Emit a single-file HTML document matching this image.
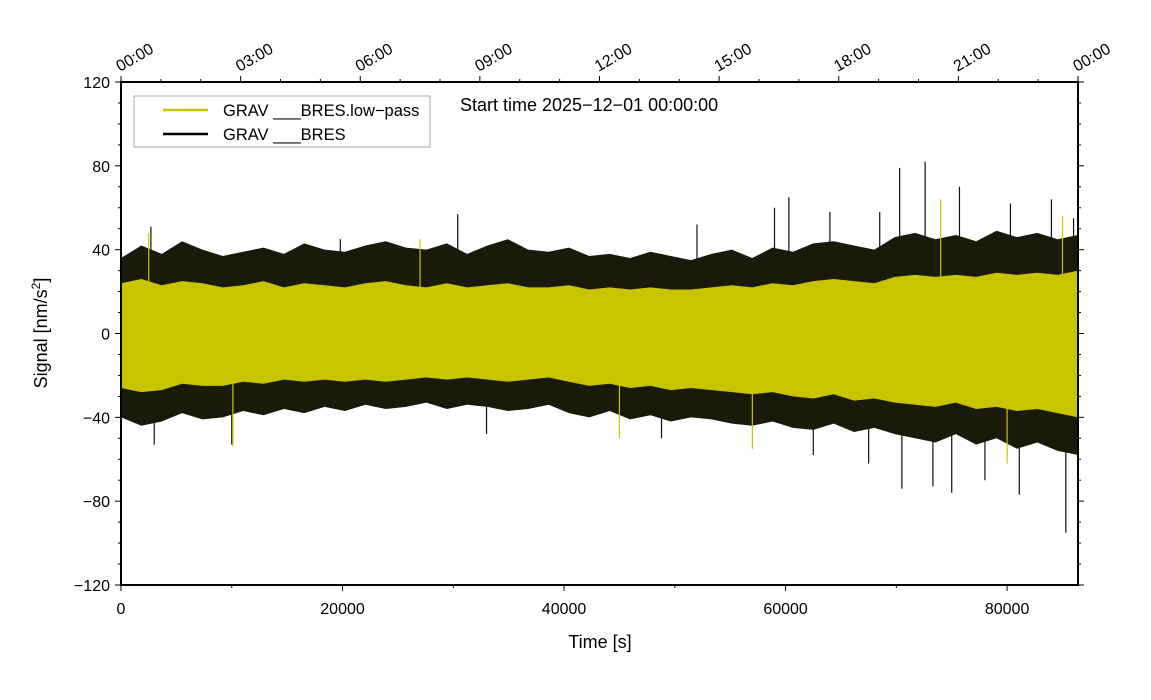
<!DOCTYPE html>
<html><head><meta charset="utf-8"><style>
body{margin:0;background:#fff;}
svg{display:block;font-family:"Liberation Sans",sans-serif;}
</style></head><body>
<svg id="chart" width="1151" height="700" viewBox="0 0 1151 700" xmlns="http://www.w3.org/2000/svg">
<rect width="1151" height="700" fill="#fff"/>
<g id="plot"></g>
<g id="axes"></g>
<g>
<rect x="134" y="96" width="296" height="51" fill="#fff" stroke="#aaa" stroke-width="1"/>
<line x1="163" y1="110" x2="208" y2="110" stroke="#c8c400" stroke-width="2.5"/>
<text x="223" y="116" font-size="16.5">GRAV ___BRES.low−pass</text>
<line x1="163" y1="134" x2="208" y2="134" stroke="#000" stroke-width="2.5"/>
<text x="223" y="140" font-size="16.5">GRAV ___BRES</text>
</g>
<text x="460" y="111" font-size="18">Start time 2025−12−01 00:00:00</text>
<text x="600" y="648" font-size="18" text-anchor="middle">Time [s]</text>
<text transform="translate(47,333) rotate(-90)" font-size="18" text-anchor="middle">Signal [nm/s<tspan font-size="12" dy="-7">2</tspan><tspan dy="7">]</tspan></text>
</svg>
<script>
const blackMax=[36,42,38,44,40,37,39,41,38,43,40,39,42,44,41,40,43,38,42,45,40,39,41,37,38,36,39,37,35,38,40,36,41,39,43,44,42,40,46,48,45,47,44,49,46,48,45,47];
const blackMin=[-40,-44,-42,-38,-41,-40,-37,-39,-36,-38,-35,-37,-34,-36,-35,-33,-36,-34,-35,-37,-36,-34,-38,-40,-37,-41,-39,-42,-40,-41,-43,-44,-42,-45,-46,-43,-47,-45,-48,-50,-52,-48,-53,-50,-55,-52,-56,-58];
const yelMax=[24,26,23,25,24,22,23,25,22,24,23,22,24,25,23,22,24,22,23,24,22,22,23,21,22,21,22,21,21,22,23,22,24,23,25,26,25,24,27,28,27,28,27,29,28,29,28,30];
const yelMin=[-26,-28,-27,-24,-25,-25,-23,-24,-22,-23,-22,-23,-22,-23,-22,-21,-22,-21,-22,-23,-22,-21,-23,-25,-24,-26,-25,-27,-26,-27,-28,-29,-28,-30,-31,-29,-32,-31,-33,-34,-35,-33,-36,-35,-37,-36,-38,-40];
const blackSpikeT=[2700,3000,10000,19800,30400,33000,48800,52000,59000,60300,62500,64000,67500,68500,70300,70500,72600,73300,75000,75700,78000,80300,81100,84000,85300,86000];
const blackSpikeV=[51,-53,-53,45,57,-48,-50,52,60,65,-58,58,-62,58,79,-74,82,-73,-76,70,-70,62,-77,64,-95,55];
const yelSpikeT=[2500,10100,27000,45000,57000,74000,80000,85000];
const yelSpikeV=[48,-54,45,-50,-55,64,-62,56];
const yTicks=[-120,-80,-40,0,40,80,120];
const xTicks=[0,20000,40000,60000,80000];
const hourLabels=["00:00","03:00","06:00","09:00","12:00","15:00","18:00","21:00","00:00"];

const L=121,R=1078,T=82,B=585,TMAX=86400;
const sx=t=>L+t/TMAX*(R-L);
const sy=v=>B-(v+120)/240*(B-T);
const NS="http://www.w3.org/2000/svg";
function mk(tag,attrs,parent){const e=document.createElementNS(NS,tag);for(const k in attrs)e.setAttribute(k,attrs[k]);parent.appendChild(e);return e;}
const plot=document.getElementById('plot'),axes=document.getElementById('axes');
const binW=TMAX/(blackMax.length-1);
function band(maxA,minA,color,name){
  let pts=[];
  maxA.forEach((v,i)=>pts.push(sx(i*binW)+','+sy(v)));
  for(let i=minA.length-1;i>=0;i--)pts.push(sx(i*binW)+','+sy(minA[i]));
  const p=mk('polygon',{points:pts.join(' '),fill:color},plot);
  
  
}
function spikes(ts,vs,color,name){
  ts.forEach((t,i)=>{const l=mk('line',{x1:sx(t),x2:sx(t),y1:sy(0),y2:sy(vs[i]),stroke:color,'stroke-width':1.2},plot);
  
  });
}
spikes(blackSpikeT,blackSpikeV,'#111','raw-spike');
band(blackMax,blackMin,'#1a1a0a','raw-signal-band');
band(yelMax,yelMin,'#c8c400','low-pass-signal-band');
spikes(yelSpikeT,yelSpikeV,'#c8c400','low-pass-spike');
const fr=mk('rect',{x:L,y:T,width:R-L,height:B-T,fill:'none',stroke:'#000','stroke-width':2},axes);


for(let v=-120;v<=120;v+=10){const maj=v%40===0;const len=maj?6:3;
  mk('line',{x1:L-len,x2:L,y1:sy(v),y2:sy(v),stroke:'#000','stroke-width':1},axes);
  mk('line',{x1:R,x2:R+len,y1:sy(v),y2:sy(v),stroke:'#000','stroke-width':1},axes);}
yTicks.forEach(v=>{const t=mk('text',{x:L-11,y:sy(v)+6,'font-size':16,'text-anchor':'end'},axes);t.textContent=(v<0?'−':'')+Math.abs(v);
  
  });
for(let t=0;t<=TMAX;t+=10000){const maj=t%20000===0;mk('line',{x1:sx(t),x2:sx(t),y1:B,y2:B+(maj?6:3),stroke:'#000','stroke-width':1},axes);}
xTicks.forEach(v=>{const t=mk('text',{x:sx(v),y:B+29,'font-size':16,'text-anchor':'middle'},axes);t.textContent=v;
  
  });
for(let h=0;h<=24;h++){const maj=h%3===0;mk('line',{x1:sx(h*3600),x2:sx(h*3600),y1:T,y2:T-(maj?6:3),stroke:'#000','stroke-width':1},axes);}
hourLabels.forEach((s,i)=>{const x=sx(i*3*3600)-1,y=T-10;
  const t=mk('text',{x:x,y:y,'font-size':16,transform:`rotate(-30 ${x} ${y})`},axes);t.textContent=s;
  
  });
</script>
</body></html>
